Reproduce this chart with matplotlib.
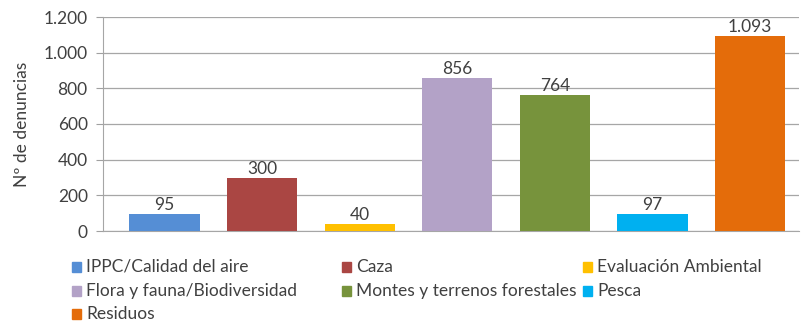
import matplotlib.pyplot as plt
from matplotlib.patches import Rectangle

plt.rcParams['font.family'] = ['Lato', 'DejaVu Sans']

categorias = ["IPPC/Calidad del aire", "Caza", "Evaluación Ambiental",
              "Flora y fauna/Biodiversidad", "Montes y terrenos forestales",
              "Pesca", "Residuos"]
denuncias = [95, 300, 40, 856, 764, 97, 1093]
colores = ["#558ED5", "#AA4643", "#FFC000", "#B3A2C7", "#77933C",
           "#00B0F0", "#E46C0A"]
yticks = [0, 200, 400, 600, 800, 1000, 1200]

W, H = 803, 323
fig = plt.figure(figsize=(W / 100, H / 100), dpi=100)
ax = fig.add_axes([103 / W, 92 / H, (799 - 103) / W, (231 - 17) / H])

def miles(v):
    return f"{v:,}".replace(",", ".")

x = range(len(categorias))
bars = ax.bar(x, denuncias, width=0.72, color=colores, zorder=3)
for b, v in zip(bars, denuncias):
    ax.text(b.get_x() + b.get_width() / 2, v + 5, miles(v),
            ha="center", va="bottom", fontsize=12.5, color="#404040")

ax.set_xlim(-0.63, 6.5)
ax.set_ylim(0, 1200)
ax.set_yticks(yticks)
ax.set_yticklabels([miles(t) for t in yticks], fontsize=12.5, color="#404040")
ax.set_xticks([])
ax.tick_params(axis="y", length=5, color="#A0A0A0", pad=6)
ax.grid(axis="y", color="#A6A6A6", linewidth=0.9, zorder=0)
for s in ["top", "right"]:
    ax.spines[s].set_visible(False)
for s in ["left", "bottom"]:
    ax.spines[s].set_color("#A6A6A6")
ax.set_ylabel("Nº de denuncias", fontsize=12.5, color="#404040", labelpad=10)

# leyenda en tres columnas, filas de izquierda a derecha
col_x = [72, 342, 583]
fila_y = [267, 291, 314]
for i, (nombre, c) in enumerate(zip(categorias, colores)):
    cx = col_x[i % 3]
    cy = fila_y[i // 3]
    fig.patches.append(Rectangle((cx / W, 1 - (cy + 5) / H), 9 / W, 10 / H,
                                 transform=fig.transFigure, color=c))
    fig.text((cx + 14) / W, 1 - cy / H, nombre, fontsize=12.5,
             color="#404040", va="center", ha="left")

fig.savefig("out.png", dpi=100)
